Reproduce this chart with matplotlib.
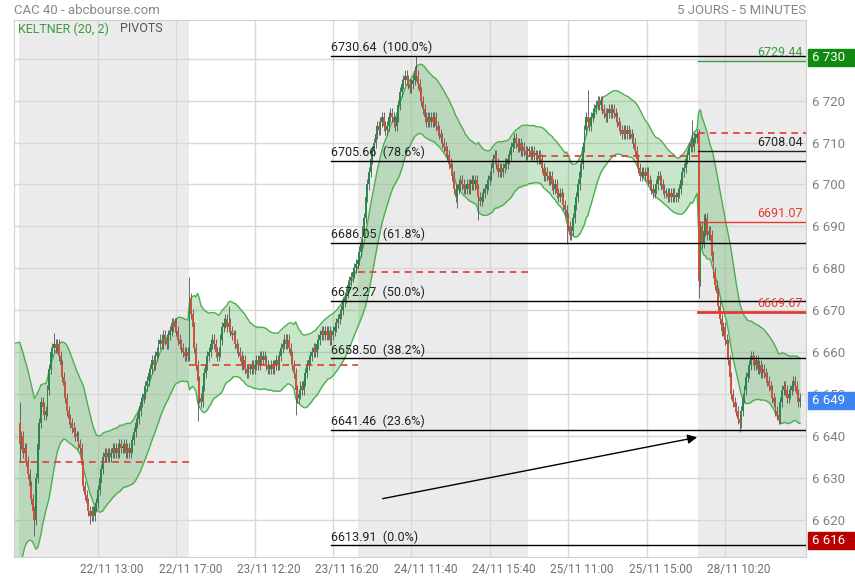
import numpy as np
import matplotlib
matplotlib.use('Agg')
import matplotlib.pyplot as plt
from matplotlib.patches import Rectangle
from matplotlib.transforms import blended_transform_factory, ScaledTranslation

plt.rcParams['font.family'] = ['Roboto', 'DejaVu Sans']

# 5-minute closes, one list per session (9:00 -> 17:35, 104 bars)
day1 = [6638, 6640, 6636, 6637, 6634, 6631, 6628, 6625, 6622, 6620,
        6630, 6638, 6643, 6648, 6647, 6645, 6646, 6651, 6656, 6660,
        6661, 6662, 6661, 6662, 6659, 6657, 6654, 6652, 6649, 6646,
        6644, 6643, 6642, 6641, 6640, 6640, 6638, 6637, 6633, 6628,
        6626, 6624, 6622, 6621, 6622, 6621, 6623, 6624, 6627, 6630,
        6632, 6635, 6636, 6635, 6636, 6635, 6636, 6637, 6636, 6637,
        6636, 6638, 6637, 6637, 6638, 6636, 6637, 6636, 6637, 6639,
        6641, 6643, 6644, 6646, 6648, 6649, 6650, 6652, 6653, 6655,
        6656, 6658, 6657, 6659, 6660, 6662, 6663, 6662, 6664, 6663,
        6662, 6664, 6665, 6667, 6666, 6667, 6665, 6663, 6662, 6661,
        6660, 6659, 6660, 6659]
day2 = [6673, 6669, 6666, 6661, 6657, 6653, 6649, 6648, 6652, 6655,
        6657, 6659, 6660, 6662, 6663, 6662, 6660, 6659, 6660, 6663,
        6666, 6667, 6668, 6666, 6667, 6665, 6664, 6664, 6662, 6661,
        6660, 6659, 6657, 6658, 6656, 6655, 6656, 6656, 6657, 6656,
        6657, 6658, 6657, 6659, 6658, 6659, 6658, 6657, 6656, 6656,
        6657, 6656, 6657, 6658, 6657, 6659, 6661, 6662, 6663, 6662,
        6663, 6661, 6659, 6657, 6655, 6651, 6649, 6650, 6652, 6651,
        6653, 6655, 6657, 6658, 6659, 6660, 6661, 6660, 6662, 6663,
        6664, 6665, 6664, 6665, 6664, 6665, 6663, 6664, 6665, 6666,
        6667, 6668, 6669, 6670, 6672, 6673, 6674, 6676, 6677, 6678,
        6679, 6680, 6681, 6682]
day3 = [6684, 6686, 6689, 6692, 6697, 6700, 6703, 6706, 6708, 6710,
        6712, 6714, 6713, 6715, 6716, 6714, 6713, 6714, 6716, 6717,
        6716, 6715, 6714, 6716, 6719, 6722, 6724, 6725, 6726, 6725,
        6724, 6723, 6724, 6725, 6727, 6726, 6724, 6722, 6720, 6718,
        6716, 6715, 6716, 6715, 6716, 6715, 6716, 6714, 6713, 6712,
        6711, 6710, 6709, 6708, 6707, 6705, 6704, 6702, 6699, 6697,
        6699, 6700, 6701, 6700, 6699, 6699, 6700, 6699, 6700, 6701,
        6700, 6701, 6699, 6697, 6696, 6697, 6698, 6699, 6700, 6701,
        6702, 6704, 6706, 6707, 6705, 6703, 6704, 6703, 6704, 6705,
        6705, 6706, 6707, 6709, 6710, 6711, 6710, 6709, 6710, 6708,
        6709, 6708, 6707, 6708]
day4 = [6708, 6707, 6708, 6707, 6707, 6706, 6707, 6706, 6704, 6702,
        6703, 6702, 6701, 6702, 6700, 6699, 6700, 6698, 6697, 6698,
        6697, 6695, 6694, 6692, 6690, 6688, 6689, 6692, 6695, 6697,
        6700, 6703, 6705, 6709, 6713, 6716, 6715, 6714, 6716, 6717,
        6718, 6719, 6720, 6719, 6720, 6718, 6717, 6716, 6717, 6718,
        6717, 6718, 6717, 6716, 6715, 6714, 6713, 6712, 6713, 6712,
        6713, 6712, 6712, 6711, 6710, 6708, 6706, 6704, 6702, 6703,
        6703, 6702, 6703, 6701, 6700, 6699, 6698, 6699, 6700, 6702,
        6701, 6700, 6699, 6698, 6698, 6697, 6698, 6697, 6698, 6697,
        6697, 6698, 6699, 6701, 6703, 6704, 6706, 6707, 6709, 6710,
        6709, 6711, 6711, 6712]
day5 = [6677, 6690, 6686, 6689, 6692, 6688, 6689, 6688, 6683, 6679,
        6676, 6674, 6671, 6668, 6665, 6666, 6663, 6662, 6658, 6654,
        6650, 6648, 6647, 6646, 6644, 6643, 6646, 6649, 6651, 6654,
        6655, 6657, 6659, 6658, 6657, 6658, 6656, 6657, 6655, 6656,
        6655, 6654, 6653, 6652, 6651, 6649, 6648, 6646, 6645, 6644,
        6648, 6651, 6652, 6651, 6649, 6650, 6651, 6652, 6653, 6652,
        6650, 6648, 6649]
first_open = 6643

high_wicks = {0: 6648, 21: 6664.5, 104: 6678, 128: 6671, 243: 6730.6,
              348: 6722.5, 412: 6715.5, 419: 6693}
low_wicks = {0: 6634, 9: 6616, 43: 6619, 109: 6643.5, 169: 6645, 268: 6694.5,
             281: 6691.5, 335: 6685.8, 416: 6673, 441: 6641}

# keltner band value at the left edge
band_start_upper = 6662
band_start_lower = 6608

# daily pivot (dashed red)
pivots = [6633.8, 6656.9, 6679.0, 6706.9, 6712.3]

# fibonacci retracement
fib_values = [6730.64, 6705.66, 6686.05, 6672.27, 6658.50, 6641.46, 6613.91]
fib_pcts = ['100.0%', '78.6%', '61.8%', '50.0%', '38.2%', '23.6%', '0.0%']

# last session levels
level_values = [6729.44, 6708.04, 6691.07, 6669.67]
level_colors = ['#3f9a3f', '#222222', '#e53935', '#e53935']
level_widths = [1.0, 1.0, 1.0, 2.0]

arrow_from = (220.7, 6624.9)
arrow_to = (416.7, 6639.8)

x_labels = ['22/11 13:00', '22/11 17:00', '23/11 12:20', '23/11 16:20', '24/11 11:40',
            '24/11 15:40', '25/11 11:00', '25/11 15:00', '28/11 10:20']
y_ticks = list(range(6620, 6731, 10))

# price boxes on the right axis: (centre, text, colour)
price_boxes = [(6730.3, '6 730', '#118a11'), (6648.5, '6 649', '#3d85f0'),
               (6615.1, '6 616', '#b80000')]

closes = np.array(day1 + day2 + day3 + day4 + day5, dtype=float)
n = len(closes)
idx = np.arange(n)
opens = np.r_[first_open, closes[:-1]]
wick = 1.2
highs = np.maximum(opens, closes) + wick
lows = np.minimum(opens, closes) - wick
for i, v in high_wicks.items():
    highs[i] = max(highs[i], v)
for i, v in low_wicks.items():
    lows[i] = min(lows[i], v)

# keltner (20, 2)
alpha = 2 / 21
m = (band_start_upper + band_start_lower) / 2
a = (band_start_upper - band_start_lower) / 4
prev = first_open
mid = np.zeros(n)
atr = np.zeros(n)
for i in range(n):
    tr = max(highs[i] - lows[i], abs(highs[i] - prev), abs(lows[i] - prev))
    m += alpha * (closes[i] - m)
    a += alpha * (tr - a)
    mid[i] = m
    atr[i] = a
    prev = closes[i]
upper = mid + 2 * atr
lower = mid - 2 * atr

W, H = 855, 580
fig = plt.figure(figsize=(W / 100, H / 100), dpi=100)
ax = fig.add_axes([14 / W, 1 - 557 / H, 792 / W, 537 / H])
x_left, x_right = -3.5, 481.7
ax.set_xlim(x_left, x_right)
ax.set_ylim(6611.1, 6739.25)
px_per_pt = 537 / (6739.25 - 6611.1)

# session shading
for d in (0, 2, 4):
    ax.axvspan(d * 104 - 0.5, min(d * 104 + 103.5, x_right), color='#ebebeb', lw=0, zorder=0)

grid_x = [48 * (k + 1) for k in range(len(x_labels))]
for gx in grid_x:
    ax.axvline(gx, color='#d8d8d8', lw=1, zorder=0.5)
for gy in y_ticks:
    ax.axhline(gy, color='#d8d8d8', lw=1, zorder=0.5)

bx = np.r_[x_left, idx]
bu = np.r_[band_start_upper, upper]
bl = np.r_[band_start_lower, lower]
ax.fill_between(bx, bl, bu, color='#4caf50', alpha=0.3, lw=0, zorder=1)
ax.plot(bx, bu, color='#4caf50', lw=1, zorder=1.5)
ax.plot(bx, bl, color='#4caf50', lw=1, zorder=1.5)

ax.vlines(idx, lows, highs, color='#555555', lw=0.6, zorder=3)
up = closes >= opens
body_lo = np.minimum(opens, closes)
body_h = np.maximum(np.abs(closes - opens), 0.5)
ax.bar(idx[up], body_h[up], bottom=body_lo[up], width=1.15, color='#26894d', lw=0, zorder=4)
ax.bar(idx[~up], body_h[~up], bottom=body_lo[~up], width=1.15, color='#d4503c', lw=0, zorder=4)

# pivots
for d, p in enumerate(pivots):
    ax.plot([d * 104 - 0.5, min(d * 104 + 103.5, x_right)], [p, p], color='#e53935',
            lw=1.2, ls=(0, (4, 3)), zorder=5)

# fibonacci
fib_x0 = 190.7
for v, p in zip(fib_values, fib_pcts):
    ax.plot([fib_x0, x_right], [v, v], color='black', lw=1, zorder=5)
    ax.text(fib_x0, v + 0.4, f'{v:.2f}  ({p})', fontsize=9, color='#222222',
            ha='left', va='bottom', zorder=6)

for v, c, lw in zip(level_values, level_colors, level_widths):
    ax.plot([415.5, x_right], [v, v], color=c, lw=lw, zorder=5)
    ax.text(479.8, v + 0.4, f'{v:.2f}', fontsize=9, color=c, ha='right', va='bottom', zorder=6)

ax.annotate('', xy=arrow_to, xytext=arrow_from,
            arrowprops=dict(arrowstyle='-|>', color='black', lw=1, mutation_scale=14), zorder=6)

for s in ax.spines.values():
    s.set_color('#d0d0d0')

ax.yaxis.tick_right()
ax.set_yticks(y_ticks)
# 6730 is shown by the green price box instead
ax.set_yticklabels(['' if v == 6730 else f'{v // 1000} {v % 1000:03d}' for v in y_ticks])
ax.tick_params(axis='y', length=0, pad=4.5, labelcolor='#808080', labelsize=9.5)
ax.set_xticks(grid_x)
ax.set_xticklabels(x_labels)
ax.tick_params(axis='x', length=0, pad=4, labelcolor='#707070', labelsize=8.5)
shift = ScaledTranslation(14 / 100, 0, fig.dpi_scale_trans)
for lab in ax.get_xticklabels():
    lab.set_transform(lab.get_transform() + shift)

trans = blended_transform_factory(fig.transFigure, ax.transData)
box_h = 17 / px_per_pt
for v, t, c in price_boxes:
    ax.add_patch(Rectangle((808 / W, v - box_h / 2), 1 - 808 / W, box_h, transform=trans,
                           color=c, clip_on=False, zorder=10))
    ax.text(812 / W, v, t, transform=trans, color='white', fontsize=9.5, va='center',
            ha='left', clip_on=False, zorder=11)

fig.text(14 / W, 1 - 10 / H, 'CAC 40 - abcbourse.com', color='#888888', fontsize=9.5, va='center')
fig.text(806 / W, 1 - 10 / H, '5 JOURS - 5 MINUTES', color='#888888', fontsize=9.5,
         va='center', ha='right')
fig.text(18 / W, 1 - 29 / H, 'KELTNER (20, 2)', color='#3c9c3c', fontsize=9, va='center')
fig.text(120 / W, 1 - 29 / H, 'PIVOTS', color='#555555', fontsize=9, va='center')

fig.savefig('out.png', dpi=100)
